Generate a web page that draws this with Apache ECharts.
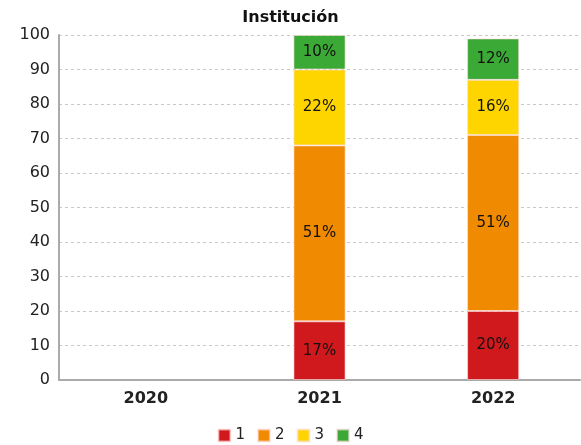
<!DOCTYPE html>
<html><head><meta charset="utf-8">
<script src="https://cdn.jsdelivr.net/npm/echarts@6/dist/echarts.min.js"></script>
<style>html,body{margin:0;padding:0;background:#fff}#c{width:581px;height:445px}</style>
</head><body><div id="c"></div>
<script>
const title = "Institución";
const categories = ["2020", "2021", "2022"];
const seriesNames = ["1", "2", "3", "4"];
const s1 = [null, 17, 20];
const s2 = [null, 51, 51];
const s3 = [null, 22, 16];
const s4 = [null, 10, 12];
const colors = ["#D0191C", "#F08A00", "#FFD500", "#3AA935"];
const yTicks = [0, 10, 20, 30, 40, 50, 60, 70, 80, 90, 100];

const font = "DejaVu Sans";
const chart = echarts.init(document.getElementById('c'), null, {renderer: 'canvas'});
const data = [s1, s2, s3, s4];
chart.setOption({
  animation: false,
  color: colors,
  title: {text: title, left: 'center', top: 5, textStyle: {fontFamily: font, fontSize: 16, fontWeight: 'bold', color: '#111'}},
  grid: {left: 59, right: 1, top: 35, bottom: 65},
  legend: {bottom: -3, left: 'center', itemWidth: 12, itemHeight: 12, itemGap: 12, icon: 'rect',
    textStyle: {fontFamily: font, fontSize: 15, color: '#222', padding: [0,0,0,0]},
    data: seriesNames},
  xAxis: {type: 'category', data: categories,
    axisLine: {lineStyle: {color: '#aaa', width: 2}},
    axisTick: {alignWithLabel: true, length: 4, lineStyle: {color: '#aaa'}},
    axisLabel: {fontFamily: font, fontSize: 16, fontWeight: 'bold', color: '#222', margin: 11}},
  yAxis: {type: 'value', min: yTicks[0], max: yTicks[yTicks.length-1], interval: 10,
    axisLine: {show: true, lineStyle: {color: '#aaa', width: 2}},
    axisTick: {show: false},
    axisLabel: {fontFamily: font, fontSize: 16, color: '#222', margin: 9},
    splitLine: {lineStyle: {color: '#c8c8c8', type: [3, 3]}}},
  series: seriesNames.map((n, i) => ({
    name: n, type: 'bar', stack: 'a', barWidth: '30%', data: data[i],
    itemStyle: {borderColor: 'rgba(255,220,220,0.6)', borderWidth: 1},
    label: {show: true, position: 'inside', formatter: p => p.value == null ? '' : p.value + '%',
      fontFamily: font, fontSize: 15, color: '#111'}
  }))
});
</script></body></html>
